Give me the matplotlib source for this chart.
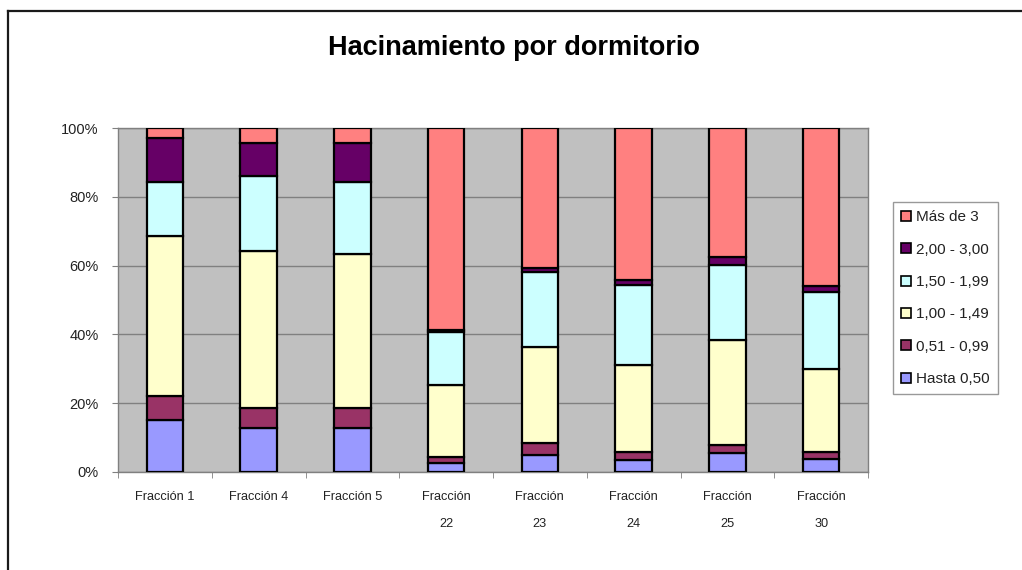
import matplotlib
matplotlib.use('Agg')
import matplotlib.pyplot as plt
import numpy as np
from matplotlib.lines import Line2D
from matplotlib.patches import Patch

plt.rcParams['font.family'] = ['Liberation Sans', 'DejaVu Sans']

# data (percent of households per fraction)
fracciones = ['Fracción 1', 'Fracción 4', 'Fracción 5', 'Fracción\n22',
              'Fracción\n23', 'Fracción\n24', 'Fracción\n25', 'Fracción\n30']
hasta_050 = [15.0, 12.8, 12.8, 2.6, 4.9, 3.4, 5.4, 3.6]
de_051_099 = [7.1, 5.7, 5.7, 1.8, 3.4, 2.4, 2.4, 2.2]
de_100_149 = [46.6, 45.8, 44.9, 20.8, 27.9, 25.3, 30.6, 24.0]
de_150_199 = [15.7, 21.9, 20.9, 15.6, 22.0, 23.3, 21.8, 22.6]
de_200_300 = [12.7, 9.4, 11.3, 0.5, 1.0, 1.4, 2.4, 1.8]
mas_de_3 = [2.9, 4.4, 4.4, 58.7, 40.8, 44.2, 37.4, 45.8]

series = [hasta_050, de_051_099, de_100_149, de_150_199, de_200_300, mas_de_3]
labels = ['Hasta 0,50', '0,51 - 0,99', '1,00 - 1,49', '1,50 - 1,99', '2,00 - 3,00', 'Más de 3']
colors = ['#9999FF', '#993366', '#FFFFCC', '#CCFFFF', '#660066', '#FF8080']

fig = plt.figure(figsize=(10.22, 5.7), dpi=100)
ax = fig.add_axes([118/1022, 1-471.7/570, 750/1022, 343.4/570])
ax.set_facecolor('#C0C0C0')

data = np.array(series, dtype=float)
data = data / data.sum(axis=0) * 100
x = np.arange(len(fracciones))
bottom = np.zeros(len(fracciones))
for vals, col in zip(data, colors):
    ax.bar(x, vals, width=0.39, bottom=bottom, color=col, edgecolor='black', linewidth=1.6, zorder=3)
    bottom += vals

ax.set_xlim(-0.5, len(fracciones) - 0.5)
ax.set_ylim(0, 100)
ax.set_yticks([0, 20, 40, 60, 80, 100])
ax.set_yticklabels(['0%', '20%', '40%', '60%', '80%', '100%'], fontsize=10.5, color='#222222')
ax.yaxis.grid(True, color='#808080', linewidth=1, zorder=0)
ax.tick_params(axis='y', length=4, color='#808080', pad=10)

ax.set_xticks(x)
ax.set_xticklabels(fracciones, fontsize=9.2, color='#222222', va='top')
for t in ax.get_xticklabels():
    t.set_linespacing(2.6)
ax.set_xticks(np.arange(-0.5, len(fracciones), 1), minor=True)
ax.tick_params(axis='x', which='major', length=0, pad=14)
ax.tick_params(axis='x', which='minor', length=4, color='#808080')

for s in ax.spines.values():
    s.set_color('#808080')
    s.set_linewidth(1)

fig.text(514/1022, 1-48/570, 'Hacinamiento por dormitorio', ha='center', va='center',
         fontsize=19.5, fontweight='bold')

# legend, top entry is the last series
handles = [Patch(facecolor=c, edgecolor='black', linewidth=1.2) for c in colors][::-1]
leg = fig.legend(handles, labels[::-1], loc='upper left', bbox_to_anchor=(893/1022, 1-202/570),
                 fontsize=11, frameon=True, fancybox=False, labelspacing=1.2,
                 handlelength=0.65, handleheight=0.65, handletextpad=0.3, borderpad=0.55,
                 borderaxespad=0)
leg.get_frame().set_edgecolor('#808080')
leg.get_frame().set_linewidth(1)
for t in leg.get_texts():
    t.set_color('#222222')

# outer chart border (only top and left are inside the picture)
fig.add_artist(Line2D([8/1022, 8/1022], [0, 1-11/570], transform=fig.transFigure, color='#1a1a1a', linewidth=1.6))
fig.add_artist(Line2D([8/1022, 1], [1-11/570, 1-11/570], transform=fig.transFigure, color='#1a1a1a', linewidth=1.6))

fig.savefig('out.png', dpi=100)
